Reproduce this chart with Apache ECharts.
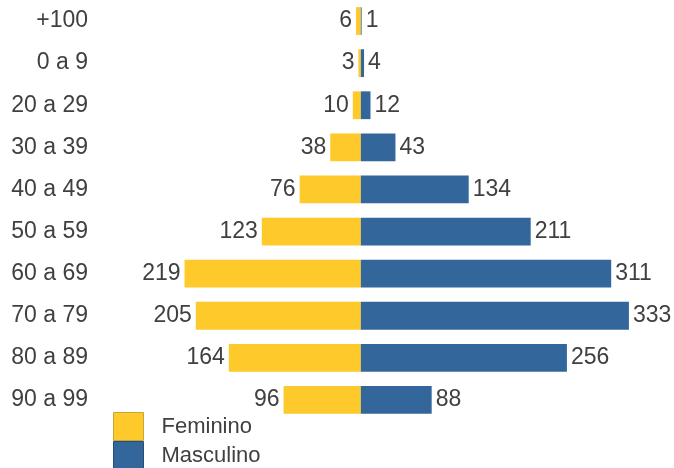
<!DOCTYPE html>
<html><head><meta charset="utf-8">
<script src="https://cdn.jsdelivr.net/npm/echarts@6/dist/echarts.min.js"></script>
<style>html,body{margin:0;padding:0;background:#fff}#c{width:674px;height:468px}</style>
</head><body><div id="c"></div>
<script>
const categories = ['+100','0 a 9','20 a 29','30 a 39','40 a 49','50 a 59','60 a 69','70 a 79','80 a 89','90 a 99'];
const feminino = [6,3,10,38,76,123,219,205,164,96];
const masculino = [1,4,12,43,134,211,311,333,256,88];
const seriesNames = ['Feminino','Masculino'];

const FONT = '"Liberation Sans", Arial, sans-serif';
const FS = 23;
const TXT = '#404040';
const chart = echarts.init(document.getElementById('c'), null, {renderer:'canvas'});
chart.setOption({
  animation:false,
  color:['#FEC92A','#33679C'],
  grid:{left:100,right:0,top:-1,bottom:47,containLabel:false},
  legend:{
    orient:'vertical', left:113, top:412, height:80, itemWidth:30, itemHeight:28, itemGap:0, padding:0,
    icon:'rect',
    textStyle:{fontFamily:FONT,fontSize:FS-1,lineHeight:26,color:TXT,padding:[0,0,0,13]},
    data:[
      {name:'Feminino',itemStyle:{color:'#FEC92A',borderColor:'#C9A43A',borderWidth:1}},
      {name:'Masculino',itemStyle:{color:'#33679C',borderColor:'#274F78',borderWidth:1}}
    ]
  },
  xAxis:{type:'value',min:-324,max:389,show:false},
  yAxis:{type:'category',data:categories,inverse:true,
    axisLine:{show:false,onZero:false},axisTick:{show:false},splitLine:{show:false},
    axisLabel:{fontFamily:FONT,fontSize:FS,color:TXT,margin:12}},
  series:[
    {name:seriesNames[0],type:'bar',stack:'t',barWidth:'66%',
     data:feminino.map(v=>-v),
     label:{show:true,position:'left',distance:4,fontFamily:FONT,fontSize:FS,color:TXT,formatter:p=>Math.abs(p.value)}},
    {name:seriesNames[1],type:'bar',stack:'t',barWidth:'66%',
     data:masculino,
     label:{show:true,position:'right',distance:4,fontFamily:FONT,fontSize:FS,color:TXT}}
  ]
});
</script></body></html>
